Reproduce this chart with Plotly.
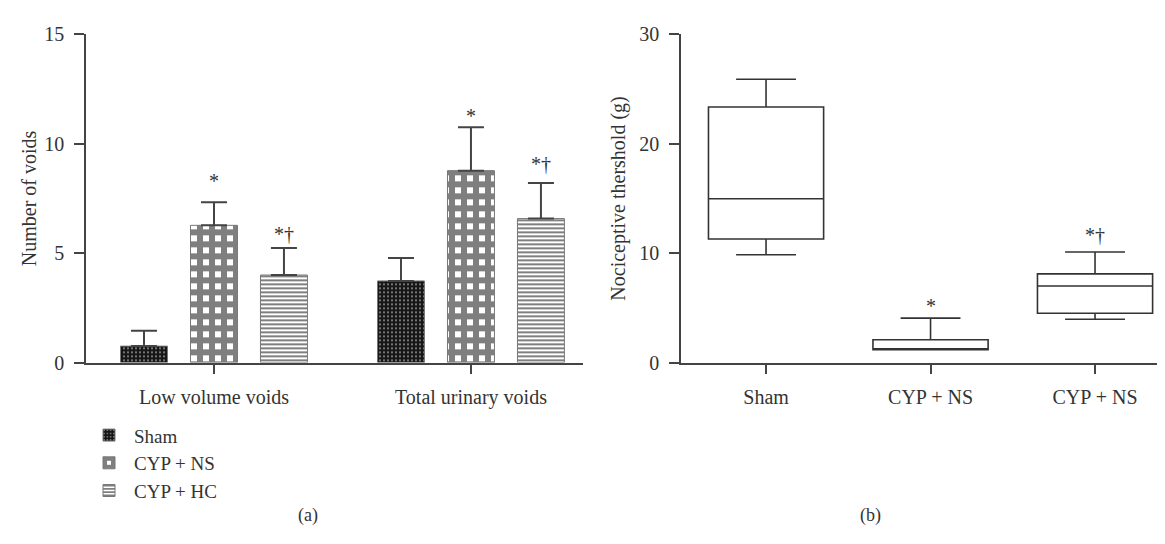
import plotly.graph_objects as go

# ---------------- data ----------------
groups = ["Low volume voids", "Total urinary voids"]
series_names = ["Sham", "CYP + NS", "CYP + HC"]
sham_mean = [0.75, 3.73]
sham_err = [0.70, 1.05]
ns_mean = [6.27, 8.77]
ns_err = [1.05, 1.98]
hc_mean = [4.00, 6.58]
hc_err = [1.23, 1.62]

bar_marks = [  # (series index, group index, label, yshift px)
    (1, 0, "*", 21),
    (2, 0, "*†", 14),
    (1, 1, "*", 11),
    (2, 1, "*†", 19),
]

box_labels = ["Sham", "CYP + NS", "CYP + NS"]
box_lower = [9.85, 1.17, 3.95]
box_q1 = [11.29, 1.17, 4.50]
box_median = [14.97, 1.20, 6.99]
box_q3 = [23.36, 2.08, 8.10]
box_upper = [25.90, 4.06, 10.11]
box_marks = [(1, "*", 12), (2, "*†", 17)]

# ---------------- style ----------------
FONT = "Liberation Serif"
TXT = "#333333"
AX = "#444444"
FS = 20

patterns = [
    dict(shape=".", bgcolor="#161616", fgcolor="white", size=4, solidity=0.22),
    dict(shape="+", bgcolor="white", fgcolor="#000000", size=12, solidity=0.75),
    dict(shape="-", bgcolor="white", fgcolor="#000000", size=4, solidity=0.5),
]
means = [sham_mean, ns_mean, hc_mean]
errs = [sham_err, ns_err, hc_err]

bargap = 0.183
fig = go.Figure()
gx = list(range(len(groups)))
for i, name in enumerate(series_names):
    fig.add_trace(go.Bar(
        x=gx, y=means[i], name=name,
        marker=dict(color=patterns[i]["bgcolor"], pattern=patterns[i],
                    line=dict(color="#777777", width=1)),
        error_y=dict(type="data", array=errs[i], arrayminus=[0] * len(gx),
                     symmetric=False, color=AX, thickness=2, width=13),
        xaxis="x", yaxis="y",
    ))

slot = (1 - bargap) / len(series_names)
for si, gi, lab, ys in bar_marks:
    xpos = gx[gi] + (si - (len(series_names) - 1) / 2) * slot
    ytop = means[si][gi] + errs[si][gi]
    fig.add_annotation(x=xpos, y=ytop, xref="x", yref="y", text=lab,
                       showarrow=False, yanchor="middle", yshift=ys,
                       font=dict(family=FONT, size=FS, color=TXT))

bx = list(range(len(box_labels)))
fig.add_trace(go.Box(
    x=bx, q1=box_q1, median=box_median, q3=box_q3,
    lowerfence=box_lower, upperfence=box_upper,
    fillcolor="white", line=dict(color="#333333", width=1.6),
    width=0.7, whiskerwidth=0.52, boxpoints=False, showlegend=False,
    xaxis="x2", yaxis="y2",
))
for bi, lab, ys in box_marks:
    fig.add_annotation(x=bx[bi], y=box_upper[bi], xref="x2", yref="y2", text=lab,
                       showarrow=False, yanchor="middle", yshift=ys,
                       font=dict(family=FONT, size=FS, color=TXT))

fig.add_annotation(x=288 / 1165, y=14 / 544, xref="paper", yref="paper", text="(a)",
                   showarrow=False, font=dict(family=FONT, size=FS - 2, color=TXT))
fig.add_annotation(x=875 / 1165, y=14 / 544, xref="paper", yref="paper", text="(b)",
                   showarrow=False, font=dict(family=FONT, size=FS - 2, color=TXT))

axis_common = dict(showline=True, linecolor=AX, linewidth=1.6, ticks="outside",
                   ticklen=10, tickwidth=1.6, tickcolor=AX, showgrid=False,
                   zeroline=False, tickfont=dict(family=FONT, size=FS, color=TXT))
ydom = [186 / 544, 528 / 544]
fig.update_layout(
    width=1165, height=544, margin=dict(l=0, r=0, t=0, b=0),
    paper_bgcolor="white", plot_bgcolor="white",
    barmode="group", bargap=bargap, bargroupgap=0.329,
    font=dict(family=FONT, size=FS, color=TXT),
    xaxis=dict(domain=[78 / 1165, 575 / 1165], range=[-0.498, 1.436],
               tickvals=gx, ticktext=groups, ticklabelstandoff=6, **axis_common),
    yaxis=dict(domain=ydom, range=[0, 15], tickvals=[0, 5, 10, 15],
               ticklabelstandoff=6,
               title=dict(text="Number of voids", standoff=2,
                          font=dict(family=FONT, size=FS, color=TXT)),
               **axis_common),
    xaxis2=dict(domain=[673 / 1165, 1.0], range=[-0.517, 2.474], anchor="y2",
                tickvals=bx, ticktext=box_labels, ticklabelstandoff=6, **axis_common),
    yaxis2=dict(domain=ydom, range=[0, 30], tickvals=[0, 10, 20, 30], anchor="x2",
                ticklabelstandoff=6,
                title=dict(text="Nociceptive thershold (g)", standoff=8,
                           font=dict(family=FONT, size=FS, color=TXT)),
                **axis_common),
    showlegend=True,
    legend=dict(x=76 / 1165, y=(544 - 414) / 544, xanchor="left", yanchor="top",
                font=dict(family=FONT, size=19, color=TXT),
                itemwidth=40, bgcolor="rgba(0,0,0,0)"),
)

fig.write_html("out.html")
